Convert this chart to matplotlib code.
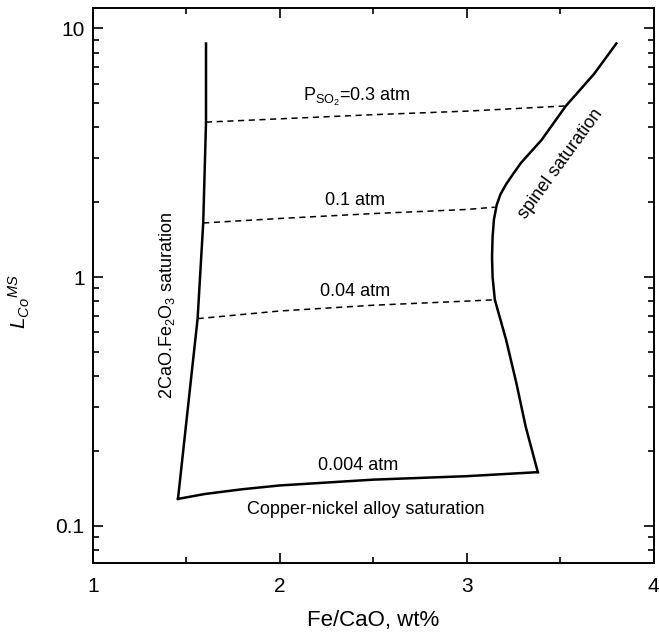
import matplotlib
matplotlib.use("Agg")
import matplotlib.pyplot as plt
from matplotlib.ticker import FixedLocator, LogLocator, NullFormatter, FixedFormatter

plt.rcParams['font.family'] = ['Liberation Sans', 'DejaVu Sans']
plt.rcParams['mathtext.fontset'] = 'custom'
plt.rcParams['mathtext.it'] = 'Liberation Sans:italic'
plt.rcParams['mathtext.rm'] = 'Liberation Sans'

# Phase boundaries
left_x = [1.455, 1.56, 1.59, 1.605, 1.605]
left_y = [0.128, 0.68, 1.65, 4.2, 8.7]

bottom_x = [1.455, 1.6, 1.8, 2.0, 2.5, 3.0, 3.38]
bottom_y = [0.128, 0.134, 0.140, 0.145, 0.153, 0.158, 0.164]

spinel_x = [3.38, 3.315, 3.265, 3.21, 3.15, 3.138, 3.135, 3.138, 3.145, 3.16, 3.18, 3.21,
            3.245, 3.29, 3.40, 3.53, 3.68, 3.80]
spinel_y = [0.164, 0.25, 0.375, 0.56, 0.81, 1.0, 1.2, 1.45, 1.7, 1.95, 2.15, 2.36,
            2.58, 2.88, 3.56, 4.88, 6.55, 8.7]

# Iso-P(SO2) lines
p03_x = [1.605, 2.0, 2.5, 3.0, 3.53]
p03_y = [4.2, 4.33, 4.5, 4.65, 4.88]
p01_x = [1.59, 2.0, 2.5, 3.0, 3.15]
p01_y = [1.65, 1.72, 1.80, 1.87, 1.91]
p004_x = [1.56, 2.0, 2.5, 3.0, 3.15]
p004_y = [0.68, 0.73, 0.77, 0.80, 0.81]

x_ticks = [1, 2, 3, 4]
x_minor = [1.5, 2.5, 3.5]
y_ticks = [0.1, 1, 10]
y_ticklabels = ['0.1', '1', '10']

fig = plt.figure(figsize=(6.59, 6.38), dpi=100)
ax = fig.add_axes([0.141, 0.1176, 0.851, 0.870])

lw = 1.8
ax.plot(left_x, left_y, color='black', lw=lw)
ax.plot(bottom_x, bottom_y, color='black', lw=lw)
ax.plot(spinel_x, spinel_y, color='black', lw=lw)
for xs, ys in [(p03_x, p03_y), (p01_x, p01_y), (p004_x, p004_y)]:
    ax.plot(xs, ys, color='black', lw=1.1, ls=(0, (4, 3)))

ax.set_yscale('log')
ax.set_xlim(1, 4)
ax.set_ylim(0.0707, 12.1)

ax.xaxis.set_major_locator(FixedLocator(x_ticks))
ax.xaxis.set_minor_locator(FixedLocator(x_minor))
ax.yaxis.set_major_locator(FixedLocator(y_ticks))
ax.yaxis.set_major_formatter(FixedFormatter(y_ticklabels))
ax.yaxis.set_minor_locator(LogLocator(base=10, subs=range(2, 10)))
ax.yaxis.set_minor_formatter(NullFormatter())
ax.tick_params(which='both', direction='in', top=True, right=True, width=1.2)
ax.tick_params(which='major', length=7, labelsize=15)
ax.tick_params(which='minor', length=4)
ax.tick_params(axis='x', which='major', pad=10)
ax.tick_params(axis='y', which='major', pad=6)
for s in ax.spines.values():
    s.set_linewidth(1.4)

ax.set_xlabel('Fe/CaO, wt%', fontsize=16, labelpad=10)
ax.set_ylabel(r'$L_{Co}{}^{MS}$', fontsize=15)
ax.yaxis.set_label_coords(-0.108, 0.47)

fs = 13
ax.text(2.41, 5.3, r'P$_{\mathregular{SO_2}}$=0.3 atm', fontsize=fs, ha='center', va='center')
ax.text(2.40, 2.03, '0.1 atm', fontsize=fs, ha='center', va='center')
ax.text(2.40, 0.875, '0.04 atm', fontsize=fs, ha='center', va='center')
ax.text(2.42, 0.174, '0.004 atm', fontsize=fs, ha='center', va='center')
ax.text(2.46, 0.116, 'Copper-nickel alloy saturation', fontsize=fs, ha='center', va='center')
ax.text(1.395, 0.77, r'2CaO.Fe$_\mathregular{2}$O$_\mathregular{3}$ saturation', fontsize=fs,
        ha='center', va='center', rotation=90)
ax.text(3.50, 2.85, 'spinel saturation', fontsize=fs, ha='center', va='center', rotation=54)

fig.savefig('out.png', dpi=100)
